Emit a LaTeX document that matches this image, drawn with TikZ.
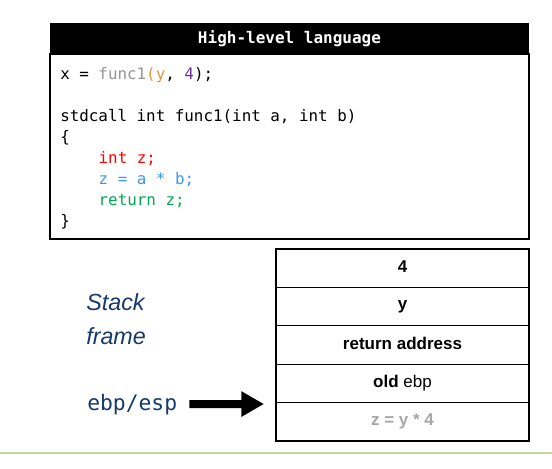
\documentclass[tikz,border=0pt]{standalone}
\usepackage{fontspec}
\setmainfont{Liberation Sans}
\setmonofont{DejaVu Sans Mono}
\usetikzlibrary{arrows.meta}

\definecolor{framblue}{RGB}{22,58,108}
\definecolor{rulegreen}{RGB}{195,214,155}
\definecolor{fgray}{RGB}{150,150,150}
\definecolor{argorange}{RGB}{225,150,60}
\definecolor{argpurple}{RGB}{112,48,160}
\definecolor{zblue}{RGB}{60,150,240}
\definecolor{retgreen}{RGB}{0,170,80}
\definecolor{cellgray}{RGB}{166,166,166}

\tikzset{
	cell/.style={draw,line width=0.9pt,rectangle,inner sep=0,minimum width=189.75pt,minimum height=28.8pt,font=\fontsize{12.75}{15}\selectfont\bfseries},
	ptr/.style={line width=6pt,-{Triangle[length=17pt,width=18pt]}}
}

\begin{document}
\begin{tikzpicture}[x=0.75pt,y=-0.75pt]
	\useasboundingbox (0,0) rectangle (552,468);
	\fill[black] (50,23) rectangle (529,54);
	\draw[line width=1pt] (50,54) rectangle (529,239);
	\node[text=white,font=\fontsize{12}{14}\ttfamily\bfseries] (head) at (289.5,38.5) {High-level language};
	\node[anchor=north west,inner sep=0,align=left,font=\fontsize{11.9}{15.8}\ttfamily] (code) at (60,67) {%
		x = \textcolor{fgray}{func1}\textcolor{argorange}{(y}, \textcolor{argpurple}{4});\\
		\mbox{}\\
		stdcall int func1(int a, int b)\\
		\{\\
		\hspace*{28.8pt}\textcolor{red}{int z;}\\
		\hspace*{28.8pt}\textcolor{zblue}{z = a * b;}\\
		\hspace*{28.8pt}\textcolor{retgreen}{return z;}\\
		\}};
	\foreach \lbl [count=\i] in {4,y,return address,{old \mdseries ebp},{\color{cellgray}z = y * 4}}
		\node[cell] (s\i) at (402.5,268.2+38.4*\i-38.4) {\raisebox{2pt}{\lbl}};
	\node[anchor=west,align=left,inner sep=0,text=framblue,font=\fontsize{17.5}{25.5}\selectfont\itshape] (frm) at (86,319) {Stack\\frame};
	\node[anchor=base west,inner sep=0,text=framblue,font=\fontsize{16}{20}\ttfamily] (esp) at (87,410) {ebp/esp};
	\coordinate (tip) at (264,404);
	\draw[ptr] ([xshift=9pt]esp.east) -- (tip);
	\draw[rulegreen,line width=1.5pt] (0,452.7) -- (552,452.7);
\end{tikzpicture}
\end{document}
